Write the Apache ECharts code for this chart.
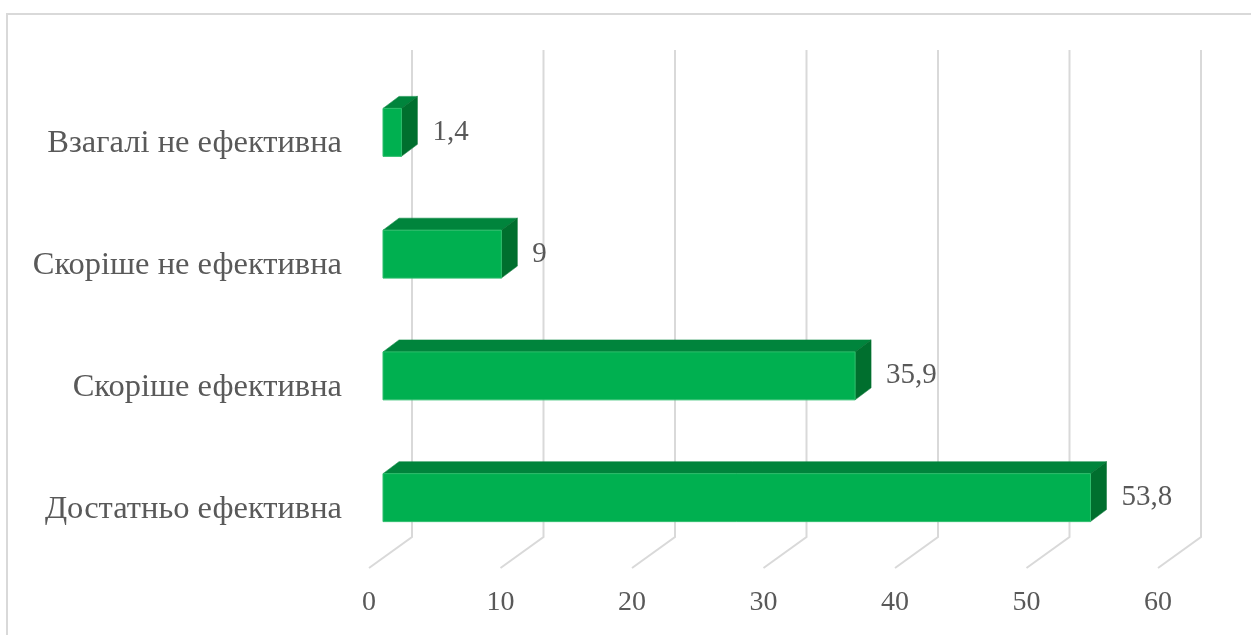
<!DOCTYPE html>
<html>
<head>
<meta charset="utf-8">
<script src="https://cdn.jsdelivr.net/npm/echarts@6/dist/echarts.min.js"></script>
<style>
html,body{margin:0;padding:0;background:#fff;}
#c{width:1251px;height:635px;}
</style>
</head>
<body>
<div id="c"></div>
<script>
const categories = ['Достатньо ефективна', 'Скоріше ефективна', 'Скоріше не ефективна', 'Взагалі не ефективна'];
const values = [53.8, 35.9, 9, 1.4];
const xTicks = [0, 10, 20, 30, 40, 50, 60];

const FONT = '"Liberation Serif", "Times New Roman", serif';
const TXT = '#595959';
const GRID = '#D9D9D9';
// 3D depth offsets (pixels) relative to the back wall
const FLOOR = [-43, 31];   // front edge of floor
const BFRONT = [-29, 21.5]; // bar front face
const BBACK = [-13, 9.5];   // bar back face

const chart = echarts.init(document.getElementById('c'), null, {renderer: 'canvas'});

const option = {
  backgroundColor: '#fff',
  animation: false,
  graphic: [{
    type: 'rect', z: -10,
    shape: {x: 7, y: 14, width: 1400, height: 800},
    style: {fill: 'none', stroke: GRID, lineWidth: 2}
  }],
  grid: {left: 412, top: 50, width: 789, height: 487},
  xAxis: {type: 'value', min: 0, max: 60, interval: 10, show: false},
  yAxis: {type: 'category', data: categories, show: false},
  series: [
    {
      type: 'custom',
      z: 1,
      data: xTicks.map(v => [v, 0]),
      renderItem: function (params, api) {
        const cs = params.coordSys;
        const x = api.coord([api.value(0), 0])[0];
        const top = cs.y, bot = cs.y + cs.height;
        const fx = x + FLOOR[0], fy = bot + FLOOR[1];
        return {
          type: 'group',
          children: [
            {type: 'polyline', shape: {points: [[x, top], [x, bot], [fx, fy]]},
             style: {stroke: GRID, lineWidth: 2, fill: null}},
            {type: 'text', style: {text: String(api.value(0)), x: fx, y: fy + 35,
             align: 'center', verticalAlign: 'middle', fill: TXT, font: '28px ' + FONT}}
          ]
        };
      }
    },
    {
      type: 'custom',
      z: 5,
      data: values.map((v, i) => [v, i]),
      renderItem: function (params, api) {
        const idx = api.value(1), val = api.value(0);
        const p0 = api.coord([0, idx]);
        const p1 = api.coord([val, idx]);
        const bandH = api.size([0, 1])[1];
        const barH = bandH * 0.394;
        const x0 = p0[0] + BFRONT[0], x1 = p1[0] + BFRONT[0];
        const yTop = p0[1] - barH / 2 + BFRONT[1], yBot = yTop + barH;
        const dx = BBACK[0] - BFRONT[0], dy = BBACK[1] - BFRONT[1];
        return {
          type: 'group',
          children: [
            {type: 'polygon', shape: {points: [[x0, yTop], [x1, yTop], [x1 + dx, yTop + dy], [x0 + dx, yTop + dy]]},
             style: {fill: '#00843C', stroke: '#00843C', lineWidth: 0.5}},
            {type: 'polygon', shape: {points: [[x1, yTop], [x1 + dx, yTop + dy], [x1 + dx, yBot + dy], [x1, yBot]]},
             style: {fill: '#006F2E', stroke: '#006F2E', lineWidth: 0.5}},
            {type: 'rect', shape: {x: x0, y: yTop, width: x1 - x0, height: barH},
             style: {fill: '#00B050', stroke: '#2DBE6C', lineWidth: 1}},
            {type: 'text', style: {text: String(val).replace('.', ','), x: x1 + dx + 15, y: (yTop + yBot) / 2,
             align: 'left', verticalAlign: 'middle', fill: TXT, font: '29px ' + FONT}},
            {type: 'text', style: {text: categories[idx], x: 342, y: p0[1] + FLOOR[1] + 2,
             align: 'right', verticalAlign: 'middle', fill: TXT, font: '32.5px ' + FONT}}
          ]
        };
      }
    }
  ]
};
chart.setOption(option);
</script>
</body>
</html>
